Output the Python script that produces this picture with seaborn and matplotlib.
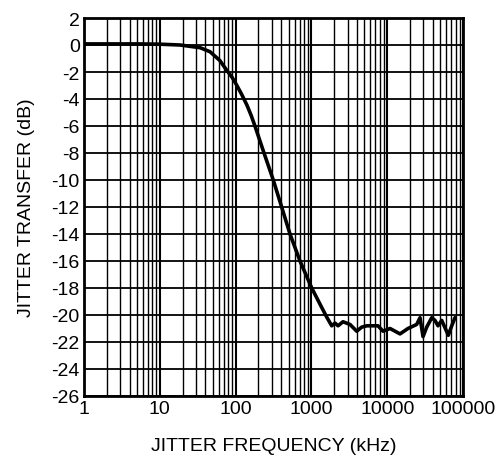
import matplotlib
matplotlib.use("Agg")
import matplotlib.pyplot as plt
import matplotlib.ticker as mticker
import numpy as np
import pandas as pd
import seaborn as sns

freq_khz = [1, 2, 5, 10, 18.5, 34, 46, 62, 77, 90, 104, 120, 141, 160, 180, 237, 314,
            405, 522, 707, 1010, 1300, 1590, 1853, 2050, 2245, 2610, 3230, 3960, 4610,
            5370, 7560, 8810, 10900, 14760, 18800, 24500, 27100, 29700, 33200, 38700,
            42700, 46800, 52400, 64000, 71000, 78400]
transfer_db = [0.08, 0.08, 0.08, 0.06, 0.0, -0.2, -0.5, -1.15, -1.9, -2.4, -3.0, -3.65,
               -4.45, -5.2, -6.0, -8.0, -10.0, -12.0, -14.0, -16.0, -18.0, -19.2,
               -20.15, -20.8, -20.6, -20.8, -20.5, -20.7, -21.2, -20.9, -20.8, -20.8,
               -21.2, -21.0, -21.4, -21.0, -20.7, -20.2, -21.6, -20.9, -20.2, -20.4,
               -20.8, -20.4, -21.5, -20.8, -20.2]

x_ticks = [1, 10, 100, 1000, 10000, 100000]
x_tick_labels = ["1", "10", "100", "1000", "10000", "100000"]
y_ticks = list(range(-26, 3, 2))
y_tick_labels = [str(v) for v in y_ticks]

sns.set_style("white")
plt.rcParams["font.family"] = ["Liberation Sans", "DejaVu Sans"]

fig = plt.figure(figsize=(4.97, 4.60), dpi=100)
ax = fig.add_axes([84 / 497, 1 - 397 / 460, (463 - 84) / 497, (397 - 19) / 460])

df = pd.DataFrame({"f": freq_khz, "db": transfer_db})
sns.lineplot(data=df, x="f", y="db", ax=ax, color="black", linewidth=2.6, sort=False)

ax.set_xscale("log")
ax.set_xlim(1, 100000)
ax.set_ylim(-26, 2)

ax.xaxis.set_major_locator(mticker.FixedLocator(x_ticks))
ax.xaxis.set_major_formatter(mticker.FixedFormatter(x_tick_labels))
ax.xaxis.set_minor_locator(mticker.LogLocator(base=10, subs=np.arange(2, 10)))
ax.xaxis.set_minor_formatter(mticker.NullFormatter())
ax.yaxis.set_major_locator(mticker.FixedLocator(y_ticks))
ax.yaxis.set_major_formatter(mticker.FixedFormatter(y_tick_labels))

ax.grid(True, which="major", axis="x", color="black", linewidth=1.5)
ax.grid(True, which="minor", axis="x", color="black", linewidth=1.0)
ax.grid(True, which="major", axis="y", color="black", linewidth=1.3)

ax.tick_params(axis="both", which="both", length=0, labelsize=14, colors="black", pad=3)

for s in ax.spines.values():
    s.set_visible(True)
    s.set_color("black")
    s.set_linewidth(2.0)

ax.set_xlabel("JITTER FREQUENCY (kHz)", fontsize=14, labelpad=14, color="black")
ax.set_ylabel("JITTER TRANSFER (dB)", fontsize=14, labelpad=12, color="black")

fig.savefig("out.png", dpi=100)
